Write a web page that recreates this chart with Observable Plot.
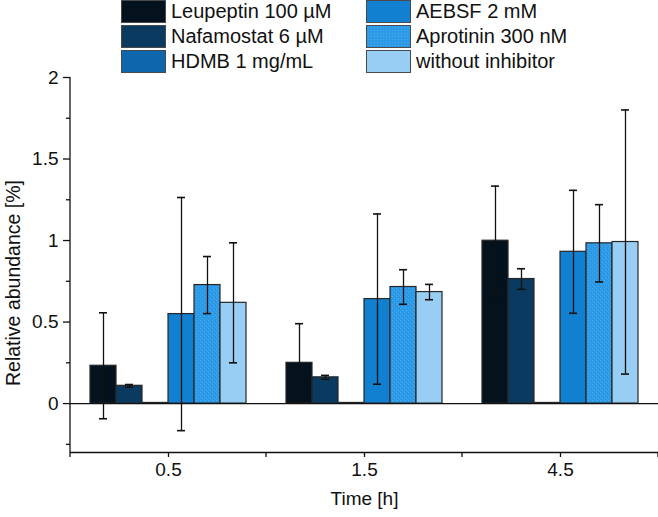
<!DOCTYPE html>
<html>
<head>
<meta charset="utf-8">
<script src="https://cdn.jsdelivr.net/npm/d3@7"></script>
<script src="https://cdn.jsdelivr.net/npm/@observablehq/plot@0.6"></script>
<style>
  body { margin: 0; background: #fff; font-family: "Liberation Sans", Arial, sans-serif; }
  #wrap { position: relative; width: 658px; height: 517px; overflow: hidden; }
  #legend { position: absolute; left: 121px; top: 0; display: grid;
            grid-template-columns: 245px 245px; grid-template-rows: 23px 23px 23px;
            grid-auto-flow: column; row-gap: 2px; }
  .item { display: flex; align-items: center; height: 23px; font-size: 20px; color: #111; white-space: nowrap; }
  .sw { width: 45px; height: 23px; box-sizing: border-box; border: 1.4px solid #4a4a4a; margin-right: 5px; flex: none; }
</style>
</head>
<body>
<div id="wrap">
  <div id="chart"></div>
  <div id="legend"></div>
</div>
<script>
// ---- data ----
const times = ["0.5", "1.5", "4.5"];
const inhibitors = ["Leupeptin 100 µM", "Nafamostat 6 µM", "HDMB 1 mg/mL", "AEBSF 2 mM", "Aprotinin 300 nM", "without inhibitor"];
const colors = ["#03121c", "#0a3a5f", "#0e66ad", "#1280d0", "url(#stipple)", "#98cdf4"];

const leupeptin = [0.232, 0.25, 0.999];
const leupeptinErr = [0.325, 0.24, 0.335];
const nafamostat = [0.109, 0.161, 0.764];
const nafamostatErr = [0.008, 0.012, 0.063];
const hdmb = [0.004, 0.004, 0.004];
const hdmbErr = [0, 0, 0];
const aebsf = [0.549, 0.641, 0.931];
const aebsfErr = [0.715, 0.522, 0.377];
const aprotinin = [0.727, 0.715, 0.983];
const aprotininErr = [0.175, 0.106, 0.237];
const without = [0.618, 0.684, 0.991];
const withoutErr = [0.368, 0.047, 0.81];

const yDomain = [-0.3, 2];
const yMajor = [0, 0.5, 1, 1.5, 2];
const yMinor = [-0.25, 0.25, 0.75, 1.25, 1.75];
const yTitle = "Relative abundance [%]";
const xTitle = "Time [h]";

const series = [leupeptin, nafamostat, hdmb, aebsf, aprotinin, without];
const errors = [leupeptinErr, nafamostatErr, hdmbErr, aebsfErr, aprotininErr, withoutErr];
const rows = inhibitors.flatMap((inh, s) => times.map((t, i) => ({
  time: t, inhibitor: inh, value: series[s][i], err: errors[s][i]
})));
const errRows = rows.filter(d => d.err > 0);

const font = "Liberation Sans, Arial, sans-serif";

const chart = Plot.plot({
  width: 658,
  height: 517,
  marginLeft: 70,
  marginRight: 0,
  marginTop: 77,
  marginBottom: 65,
  style: { fontFamily: font, fontSize: "19px", color: "#111", background: "transparent", overflow: "visible" },
  fx: { domain: times, padding: 0, label: null },
  x: { domain: inhibitors, paddingInner: 0, paddingOuter: 0.769, axis: null, label: null },
  y: { domain: yDomain, label: null },
  color: { domain: inhibitors, range: colors },
  marks: [
    Plot.barY(rows, { fx: "time", x: "inhibitor", y: "value", fill: "inhibitor", stroke: "#262626", strokeWidth: 1.2 }),
    Plot.ruleY([0], { stroke: "#111", strokeWidth: 1.3 }),
    Plot.ruleX(errRows, { fx: "time", x: "inhibitor", y1: d => d.value - d.err, y2: d => d.value + d.err, stroke: "#111", strokeWidth: 1.3 }),
    Plot.tickY(errRows, { fx: "time", x: "inhibitor", y: d => d.value + d.err, insetLeft: 9, insetRight: 9, stroke: "#111", strokeWidth: 1.6 }),
    Plot.tickY(errRows, { fx: "time", x: "inhibitor", y: d => d.value - d.err, insetLeft: 9, insetRight: 9, stroke: "#111", strokeWidth: 1.6 }),
    Plot.ruleY([yDomain[0]], { stroke: "#111", strokeWidth: 1.3 }),
    Plot.axisY({ ticks: yMajor, tickSize: 7, tickPadding: 5, tickFormat: d => String(d), strokeWidth: 1.3, label: null }),
    Plot.axisY({ ticks: yMinor, tickSize: 4, tickFormat: () => "", strokeWidth: 1.3, label: null }),
    Plot.text([yTitle], { facetAnchor: "left", frameAnchor: "left", rotate: -90, dx: -57, dy: 18,
                          textAnchor: "middle", fontSize: 19.5, fill: "#111", text: d => d }),
    Plot.axisFx({ anchor: "bottom", tickSize: 5, tickPadding: 5, strokeWidth: 1.3,
                  label: xTitle, labelAnchor: "center", labelOffset: 52, labelArrow: false })
  ]
});

// stipple pattern for the Aprotinin bars, spine and band-boundary ticks from the library's scales
const svg = d3.select(chart.tagName.toLowerCase() === "svg" ? chart : chart.querySelector("svg"));
const defs = svg.insert("defs", ":first-child");
const pat = defs.append("pattern").attr("id", "stipple").attr("patternUnits", "userSpaceOnUse")
  .attr("width", 4).attr("height", 4);
pat.append("rect").attr("width", 4).attr("height", 4).attr("fill", "#2d9ae7");
pat.append("rect").attr("x", 0).attr("y", 0).attr("width", 1).attr("height", 1).attr("fill", "#47aaee");
pat.append("rect").attr("x", 2).attr("y", 2).attr("width", 1).attr("height", 1).attr("fill", "#47aaee");
pat.append("rect").attr("x", 3).attr("y", 1).attr("width", 1).attr("height", 1).attr("fill", "#2690dc");

const fxS = chart.scale("fx");
const yS = chart.scale("y");
const yBottom = yS.apply(yDomain[0]);
const yTop = yS.apply(yDomain[1]);
const xLeft = fxS.apply(times[0]);
const bounds = times.map(t => fxS.apply(t)).concat([fxS.apply(times[times.length - 1]) + fxS.bandwidth]);
const g = svg.append("g").attr("stroke", "#111").attr("stroke-width", 1.3);
g.append("line").attr("x1", xLeft).attr("x2", xLeft).attr("y1", yTop).attr("y2", yBottom);
bounds.forEach(b => g.append("line").attr("x1", b).attr("x2", b).attr("y1", yBottom).attr("y2", yBottom + 5));

document.getElementById("chart").appendChild(chart);

// legend
const legend = d3.select("#legend");
inhibitors.forEach((name, i) => {
  const item = legend.append("div").attr("class", "item");
  const sw = item.append("div").attr("class", "sw");
  if (colors[i].startsWith("url")) {
    sw.style("background", "radial-gradient(#47aaee 30%, transparent 32%) 0 0 / 3px 3px, #2d9ae7");
  } else {
    sw.style("background", colors[i]);
  }
  item.append("span").text(name);
});
</script>
</body>
</html>
